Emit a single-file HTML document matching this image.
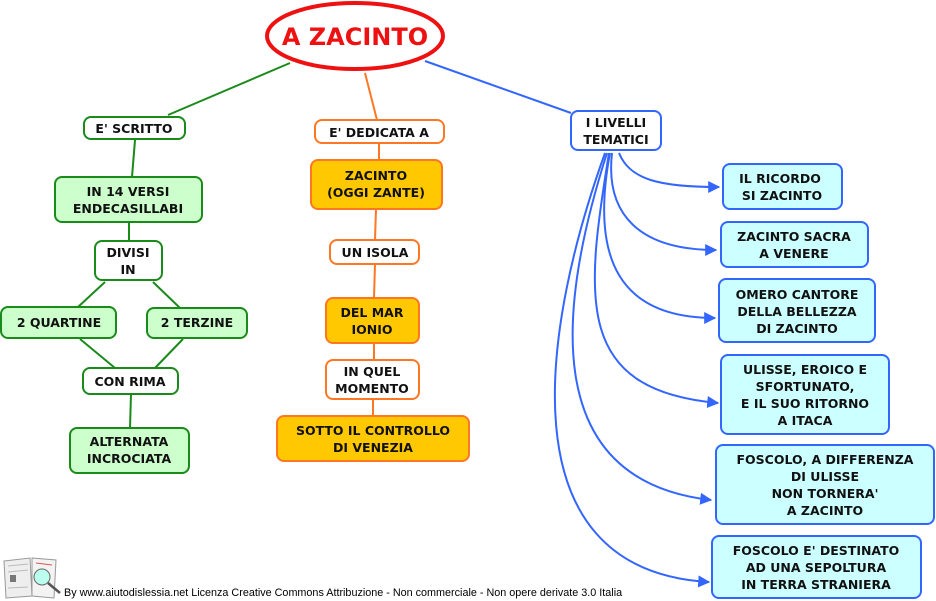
<!DOCTYPE html>
<html><head><meta charset="utf-8"><style>
html,body{margin:0;padding:0;background:#fff;width:936px;height:601px;overflow:hidden}
svg text{font-family:"DejaVu Sans","Liberation Sans",sans-serif;font-weight:bold;font-size:12.5px;fill:#111;text-anchor:middle}
</style></head><body>
<svg width="936" height="601" viewBox="0 0 936 601" xmlns="http://www.w3.org/2000/svg">
<defs>
<marker id="ar" viewBox="0 0 10 10" refX="9" refY="5" markerWidth="12" markerHeight="12" orient="auto" markerUnits="userSpaceOnUse">
<path d="M0,0 L10,5 L0,10 z" fill="#3366ff"/></marker>
</defs>
<g stroke="#1a8a1a" stroke-width="2" fill="none">
<line x1="290" y1="63" x2="168" y2="115"/>
<line x1="135" y1="140" x2="132" y2="177"/>
<line x1="129" y1="222" x2="129" y2="241"/>
<line x1="105" y1="282" x2="78" y2="307"/>
<line x1="153" y1="282" x2="180" y2="308"/>
<line x1="80" y1="339" x2="115" y2="368"/>
<line x1="183" y1="339" x2="155" y2="368"/>
<line x1="131" y1="394" x2="130" y2="428"/>
</g>
<g stroke="#ff7722" stroke-width="2" fill="none">
<line x1="365" y1="73" x2="377" y2="120"/>
<line x1="379" y1="143" x2="379" y2="160"/>
<line x1="376" y1="209" x2="375" y2="240"/>
<line x1="375" y1="264" x2="374" y2="298"/>
<line x1="374" y1="343" x2="374" y2="360"/>
<line x1="373" y1="399" x2="373" y2="416"/>
</g>
<g stroke="#3366ff" stroke-width="2" fill="none">
<line x1="425" y1="61" x2="571" y2="113"/>
<path d="M619,153 C630,180 660,187 719,187" marker-end="url(#ar)"/>
<path d="M612,153 C605,215 640,250 716,250" marker-end="url(#ar)"/>
<path d="M610,153 C590,260 620,318 715,318" marker-end="url(#ar)"/>
<path d="M609,153 C585,300 575,390 718,403" marker-end="url(#ar)"/>
<path d="M607,153 C560,300 535,480 711,500" marker-end="url(#ar)"/>
<path d="M605,153 C545,320 500,570 709,582" marker-end="url(#ar)"/>
</g>
<ellipse cx="355" cy="36" rx="88" ry="33" fill="#fff" stroke="#ee1111" stroke-width="4"/>
<text x="355" y="45" style="font-size:24px;fill:#ee1111">A ZACINTO</text>
<g stroke="#1a8a1a" stroke-width="2">
<rect x="84" y="117" width="101" height="22" rx="7" fill="#fff"/>
<rect x="55" y="177" width="147" height="45" rx="7" fill="#ccffcc"/>
<rect x="95" y="241" width="67" height="39" rx="7" fill="#fff"/>
<rect x="1" y="307" width="115" height="31" rx="7" fill="#ccffcc"/>
<rect x="147" y="308" width="100" height="30" rx="7" fill="#ccffcc"/>
<rect x="83" y="368" width="95" height="26" rx="7" fill="#fff"/>
<rect x="70" y="428" width="119" height="45" rx="7" fill="#ccffcc"/>
</g>
<text x="134" y="133">E' SCRITTO</text>
<text x="128" y="196">IN 14 VERSI</text><text x="128" y="213">ENDECASILLABI</text>
<text x="128" y="257">DIVISI</text><text x="128" y="274">IN</text>
<text x="59" y="327">2 QUARTINE</text>
<text x="197" y="327">2 TERZINE</text>
<text x="130" y="386">CON RIMA</text>
<text x="129" y="446">ALTERNATA</text><text x="129" y="463">INCROCIATA</text>
<g stroke="#ff7722" stroke-width="2">
<rect x="315" y="120" width="129" height="23" rx="7" fill="#fff"/>
<rect x="311" y="160" width="131" height="49" rx="7" fill="#ffc800"/>
<rect x="330" y="240" width="89" height="24" rx="7" fill="#fff"/>
<rect x="326" y="298" width="93" height="45" rx="7" fill="#ffc800"/>
<rect x="326" y="360" width="93" height="39" rx="7" fill="#fff"/>
<rect x="277" y="416" width="192" height="45" rx="7" fill="#ffc800"/>
</g>
<text x="379" y="137">E' DEDICATA A</text>
<text x="376" y="180">ZACINTO</text><text x="376" y="197">(OGGI ZANTE)</text>
<text x="375" y="257">UN ISOLA</text>
<text x="372" y="317">DEL MAR</text><text x="372" y="334">IONIO</text>
<text x="372" y="376">IN QUEL</text><text x="372" y="393">MOMENTO</text>
<text x="373" y="435">SOTTO IL CONTROLLO</text><text x="373" y="452">DI VENEZIA</text>
<g stroke="#3366ff" stroke-width="2">
<rect x="571" y="111" width="90" height="39" rx="7" fill="#fff"/>
<rect x="723" y="164" width="119" height="45" rx="7" fill="#ccffff"/>
<rect x="721" y="222" width="147" height="45" rx="7" fill="#ccffff"/>
<rect x="719" y="279" width="156" height="63" rx="7" fill="#ccffff"/>
<rect x="721" y="355" width="168" height="79" rx="7" fill="#ccffff"/>
<rect x="716" y="445" width="218" height="79" rx="7" fill="#ccffff"/>
<rect x="712" y="536" width="209" height="62" rx="7" fill="#ccffff"/>
</g>
<text x="616" y="127">I LIVELLI</text><text x="616" y="144">TEMATICI</text>
<text x="780" y="183">IL RICORDO</text><text x="782" y="200">SI ZACINTO</text>
<text x="794" y="241">ZACINTO SACRA</text><text x="794" y="258">A VENERE</text>
<text x="797" y="299">OMERO CANTORE</text><text x="797" y="316">DELLA BELLEZZA</text><text x="797" y="333">DI ZACINTO</text>
<text x="805" y="374">ULISSE, EROICO E</text><text x="805" y="391">SFORTUNATO,</text><text x="805" y="408">E IL SUO RITORNO</text><text x="805" y="425">A ITACA</text>
<text x="825" y="464">FOSCOLO, A DIFFERENZA</text><text x="825" y="481">DI ULISSE</text><text x="825" y="498">NON TORNERA'</text><text x="825" y="515">A ZACINTO</text>
<text x="816" y="555">FOSCOLO E' DESTINATO</text><text x="816" y="572">AD UNA SEPOLTURA</text><text x="816" y="589">IN TERRA STRANIERA</text>
<g>
<path d="M4,561 L30,558 L32,596 L6,598 z" fill="#eee" stroke="#999"/>
<path d="M32,558 L56,560 L54,598 L32,596 z" fill="#f3f3f3" stroke="#999"/>
<line x1="8" y1="566" x2="28" y2="564" stroke="#bbb"/><line x1="8" y1="572" x2="28" y2="570" stroke="#bbb"/>
<line x1="8" y1="588" x2="28" y2="587" stroke="#bbb"/>
<rect x="10" y="575" width="6" height="7" fill="#777"/>
<line x1="36" y1="563" x2="52" y2="565" stroke="#d55"/>
<circle cx="42" cy="577" r="8" fill="#bfe" stroke="#666"/>
<line x1="48" y1="583" x2="60" y2="593" stroke="#555" stroke-width="2.5"/>
</g>
<text x="64" y="596" style="font-family:'Liberation Sans',sans-serif;font-weight:normal;font-size:10.8px;text-anchor:start;fill:#000">By www.aiutodislessia.net Licenza Creative Commons Attribuzione - Non commerciale - Non opere derivate 3.0 Italia</text>
</svg>
</body></html>
